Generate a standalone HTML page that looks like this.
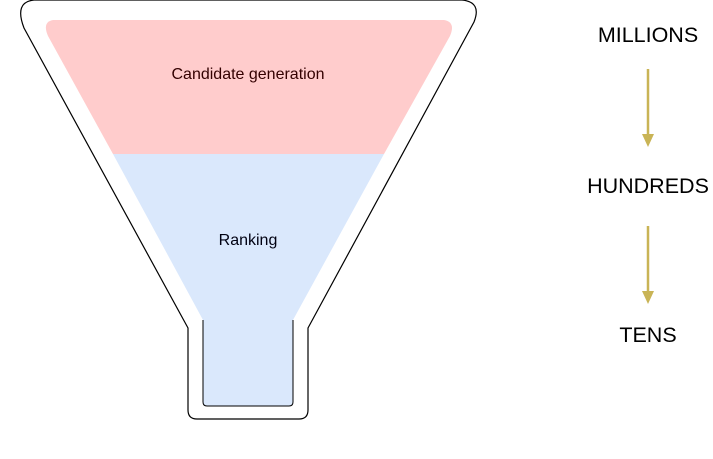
<!DOCTYPE html>
<html><head><style>body{margin:0;background:#fff}svg{display:block}</style></head><body>
<svg width="713" height="459" viewBox="0 0 713 459" xmlns="http://www.w3.org/2000/svg">
<path d="M34,0 L462,0 Q482,2 474,22 L308,328 L308,410 Q308,419 299,419 L197,419 Q188,419 188,410 L188,328 L24,28 Q14,2 34,0 Z" fill="#fff" stroke="#000" stroke-width="1.2"/>
<path d="M53,20 L444,20 Q456,22 450,36 L384,154 L113,154 L48,36 Q42,22 53,20 Z" fill="#ffcccc"/>
<path d="M113,154 L384,154 L293,320 L293,402 Q293,406 289,406 L207,406 Q203,406 203,402 L203,320 Z" fill="#dae8fc"/>
<path d="M293,320 L293,402 Q293,406 289,406 L207,406 Q203,406 203,402 L203,320" fill="none" stroke="#000" stroke-width="1"/>
<text x="248" y="79" font-family="Liberation Sans, sans-serif" font-size="16" text-anchor="middle" fill="#300">Candidate generation</text>
<text x="248" y="245" font-family="Liberation Sans, sans-serif" font-size="16" text-anchor="middle" fill="#001">Ranking</text>
<g font-family="Liberation Sans, sans-serif" font-size="21.5" text-anchor="middle" fill="#000">
<text x="648" y="42">MILLIONS</text>
<text x="648" y="193">HUNDREDS</text>
<text x="648" y="342">TENS</text>
</g>
<g stroke="#c9b456" stroke-width="2.5" fill="#c9b456">
<line x1="648" y1="69" x2="648" y2="138"/>
<path d="M642,134 L654,134 L648,147 Z" stroke="none"/>
<line x1="648" y1="226" x2="648" y2="295"/>
<path d="M642,291 L654,291 L648,304 Z" stroke="none"/>
</g>
</svg>
</body></html>
